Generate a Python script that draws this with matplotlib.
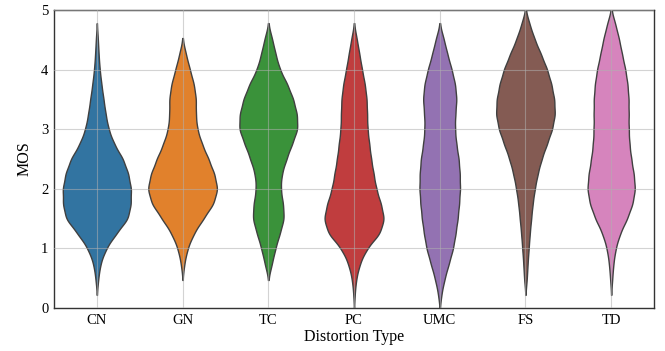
import numpy as np
import matplotlib
matplotlib.use("Agg")
import matplotlib.pyplot as plt

plt.rcParams['font.family'] = ['Liberation Serif', 'DejaVu Serif']
plt.rcParams['font.size'] = 10.5

categories = ["CN", "GN", "TC", "PC", "UMC", "FS", "TD"]

mos_levels = [0.25, 0.5, 0.75, 1.0, 1.25, 1.5, 1.75, 2.0, 2.25, 2.5,
              2.75, 3.0, 3.25, 3.5, 3.75, 4.0, 4.25, 4.5, 4.75, 5.0]

cn_counts = [0, 4, 10, 26, 55, 90, 97, 98, 90, 75, 49, 33, 25, 19, 13, 8, 5, 3, 0, 0]
gn_counts = [0, 0, 5, 14, 32, 60, 90, 102, 92, 75, 56, 42, 38, 39, 33, 21, 10, 0, 0, 0]
tc_counts = [0, 0, 10, 19, 31, 43, 40, 33, 36, 49, 64, 80, 78, 68, 52, 31, 20, 11, 0, 0]
pc_counts = [2, 6, 16, 35, 72, 84, 74, 61, 54, 47, 42, 37, 36, 35, 30, 22, 15, 8, 0, 0]
umc_counts = [5, 14, 26, 38, 45, 51, 55, 58, 57, 54, 47, 43, 44, 48, 44, 34, 22, 12, 0, 0]
fs_counts = [0, 4, 6, 9, 12, 16, 20, 26, 34, 45, 60, 75, 83, 81, 73, 61, 44, 26, 12, 0]
td_counts = [0, 3, 6, 12, 24, 44, 59, 66, 62, 55, 50, 48, 48, 48, 45, 39, 30, 22, 12, 0]

all_counts = [cn_counts, gn_counts, tc_counts, pc_counts, umc_counts, fs_counts, td_counts]
colors = ['#3274a1', '#e1812c', '#3a923a', '#c03d3e', '#9372b2', '#845b53', '#d684bd']

bw = 0.14
cut = 2.0
violin_width = 0.8

levels = np.array(mos_levels)
curves = []
for counts in all_counts:
    w = np.array(counts, dtype=float)
    nz = levels[w > 0]
    grid = np.linspace(nz.min() - cut * bw, nz.max() + cut * bw, 400)
    k = np.exp(-0.5 * ((grid[:, None] - levels[None, :]) / bw) ** 2) / (bw * np.sqrt(2 * np.pi))
    dens = (k * w[None, :]).sum(axis=1) / w.sum()
    curves.append((grid, dens))

global_max = max(d.max() for _, d in curves)

fig = plt.figure(figsize=(6.65, 3.51), dpi=100)
ax = fig.add_axes([0.0812, 0.1225, 0.9023, 0.849])

for i, ((grid, dens), col) in enumerate(zip(curves, colors)):
    hw = dens / global_max * violin_width / 2
    ax.fill_betweenx(grid, i - hw, i + hw, facecolor=col, edgecolor='#404040',
                     linewidth=1.0, zorder=1)

ax.set_xlim(-0.5, len(categories) - 0.5)
ax.set_ylim(0, 5)
ax.set_xticks(range(len(categories)))
ax.set_xticklabels(categories)
ax.set_yticks([0, 1, 2, 3, 4, 5])
ax.set_axisbelow(False)
ax.grid(True, color='#b0b0b0', linewidth=0.8, alpha=0.55)
ax.tick_params(length=0, pad=4, labelsize=10.5)
for s in ax.spines.values():
    s.set_color('#333333')
    s.set_linewidth(1.0)
ax.set_xlabel("Distortion Type", fontsize=11.5, labelpad=2)
ax.set_ylabel("MOS", fontsize=11.5, labelpad=6)

fig.savefig("out.png", dpi=100)
